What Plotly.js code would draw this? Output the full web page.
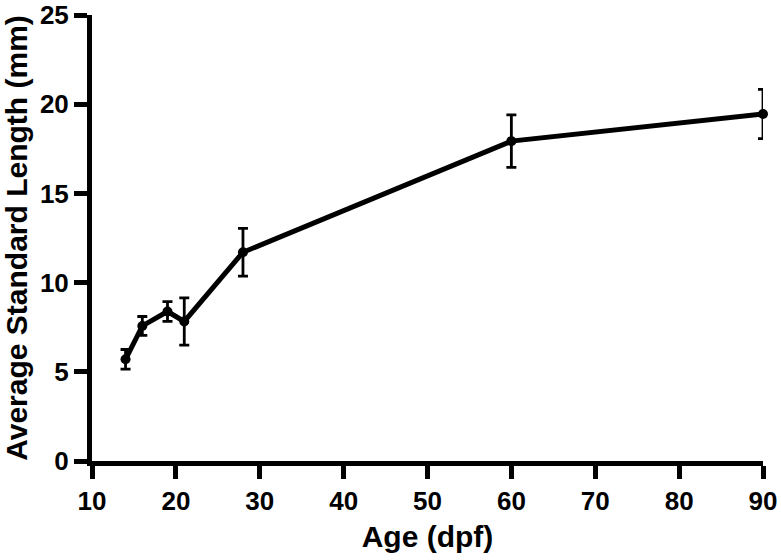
<!DOCTYPE html>
<html>
<head>
<meta charset="utf-8">
<script src="https://cdn.plot.ly/plotly-3.0.1.min.js"></script>
<style>html,body{margin:0;padding:0;background:#fff;}#chart{width:781px;height:560px;}</style>
</head>
<body>
<div id="chart"></div>
<script>
const ageDpf = [14, 16, 19, 21, 28, 60, 90];
const meanLength = [5.7, 7.57, 8.38, 7.82, 11.7, 17.93, 19.45];
const errLength = [0.55, 0.53, 0.55, 1.32, 1.34, 1.47, 1.38];
const xTicks = [10, 20, 30, 40, 50, 60, 70, 80, 90];
const yTicks = [0, 5, 10, 15, 20, 25];

const trace = {
  x: ageDpf,
  y: meanLength,
  type: 'scatter',
  mode: 'lines+markers',
  line: {color: '#000', width: 5},
  marker: {color: '#000', size: 10},
  error_y: {type: 'data', array: errLength, visible: true, color: '#000', thickness: 2.8, width: 5},
  showlegend: false,
  cliponaxis: false
};

const fam = 'Liberation Sans, Arial, sans-serif';
const layout = {
  width: 781, height: 560,
  margin: {l: 92, r: 18, t: 15, b: 99},
  paper_bgcolor: '#fff', plot_bgcolor: '#fff',
  font: {family: fam, color: '#000'},
  xaxis: {
    range: [10, 90], tickvals: xTicks, ticktext: xTicks.map(v => '<b>' + v + '</b>'),
    showgrid: false, zeroline: false, showline: true, linecolor: '#000', linewidth: 5,
    ticks: 'outside', ticklen: 13, tickwidth: 5, tickcolor: '#000',
    tickfont: {family: fam, size: 26, color: '#000'},
    title: {text: '<b>Age (dpf)</b>', font: {family: fam, size: 30, color: '#000'}, standoff: 12}
  },
  yaxis: {
    range: [0, 25], tickvals: yTicks, ticktext: yTicks.map(v => '<b>' + v + '</b>'),
    showgrid: false, zeroline: false, showline: true, linecolor: '#000', linewidth: 5,
    ticks: 'outside', ticklen: 13, tickwidth: 5, tickcolor: '#000',
    tickfont: {family: fam, size: 26, color: '#000'},
    title: {text: '<b>Average Standard Length (mm)</b>', font: {family: fam, size: 30, color: '#000'}, standoff: 9}
  }
};

Plotly.newPlot('chart', [trace], layout, {displayModeBar: false, staticPlot: true});
</script>
</body>
</html>
